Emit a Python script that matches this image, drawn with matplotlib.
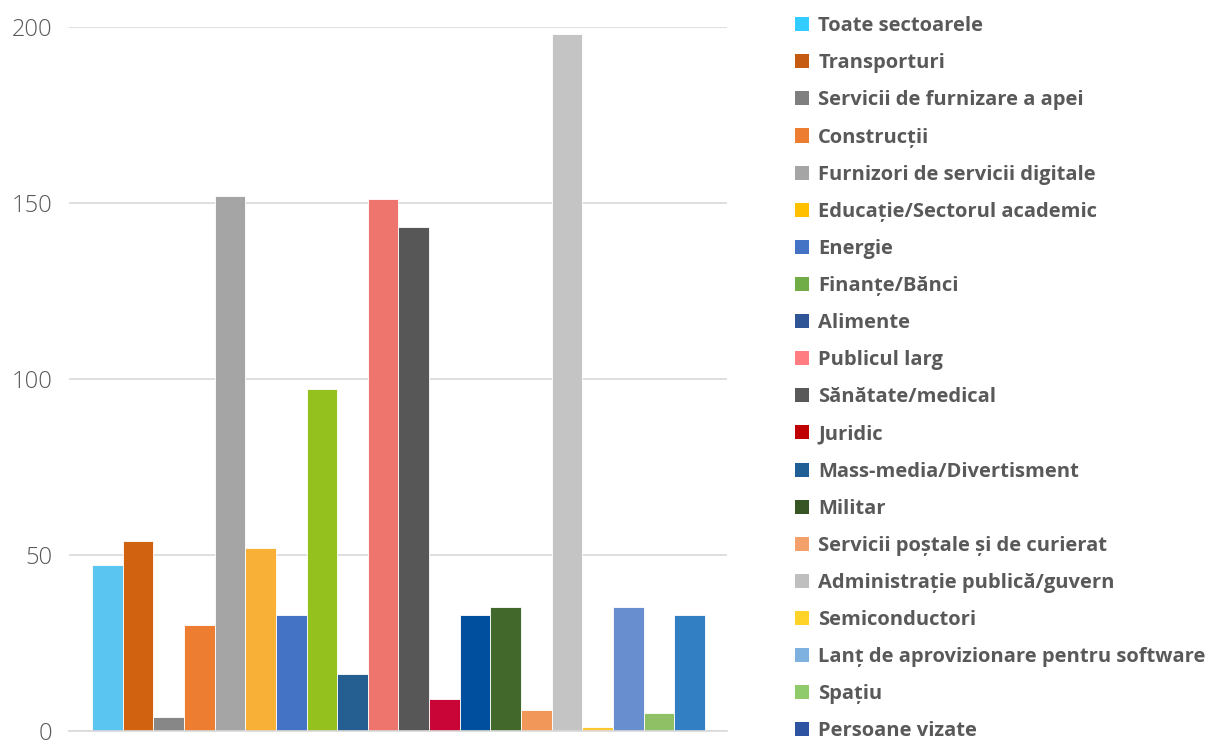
import matplotlib
matplotlib.use("Agg")
import matplotlib.pyplot as plt
from matplotlib.patches import Patch

sectors = ["Toate sectoarele", "Transporturi", "Servicii de furnizare a apei", "Construcții",
           "Furnizori de servicii digitale", "Educație/Sectorul academic", "Energie",
           "Finanțe/Bănci", "Alimente", "Publicul larg", "Sănătate/medical", "Juridic",
           "Mass-media/Divertisment", "Militar", "Servicii poștale și de curierat",
           "Administrație publică/guvern", "Semiconductori",
           "Lanț de aprovizionare pentru software", "Spațiu", "Persoane vizate"]
counts = [47, 54, 4, 30, 152, 52, 33, 97, 16, 151, 143, 9, 33, 35, 6, 198, 1, 35, 5, 33]
bar_colors = ["#5BC5F2", "#D06210", "#878787", "#ED7D31", "#A5A5A5", "#F9B036", "#4472C4",
              "#95C11F", "#255E91", "#EE756D", "#575757", "#C90537", "#004F9F", "#43682B",
              "#F1975A", "#C4C4C4", "#FFC832", "#698ED0", "#8FC065", "#337FC3"]
legend_colors = ["#33CCFF", "#C55A11", "#7F7F7F", "#ED7D31", "#A5A5A5", "#FFC000", "#4472C4",
                 "#70AD47", "#2F5597", "#FF7C80", "#595959", "#C00000", "#1F5F96", "#375623",
                 "#F4A06A", "#BFBFBF", "#FFD32A", "#7EB1E0", "#8FCB6B", "#2E54A1"]

TXT = "#595959"
fig = plt.figure(figsize=(12.07, 7.40), dpi=100)
ax = fig.add_axes([0.0572, 0.0126, 0.5451, 0.9514])

xs = list(range(len(counts)))
ax.bar(xs, counts, width=1.0, color=bar_colors, edgecolor="white", linewidth=0.6, zorder=3)
ax.set_xlim(-1.25, 20.22)
ax.set_ylim(0, 200)
ax.set_yticks([0, 50, 100, 150, 200])
ax.yaxis.grid(True, color="#D9D9D9", linewidth=1.2, zorder=0)
ax.tick_params(axis="y", length=0, labelsize=17, labelcolor=TXT, pad=12)
ax.tick_params(axis="x", length=0, labelbottom=False)
for s in ["top", "right", "left"]:
    ax.spines[s].set_visible(False)
ax.spines["bottom"].set_color("#D9D9D9")
ax.spines["bottom"].set_linewidth(1.2)
ax.spines["bottom"].set_zorder(4)
for lab in ax.get_yticklabels():
    lab.set_family("Open Sans")
    lab.set_fontweight("light")

handles = [Patch(facecolor=c, edgecolor="none") for c in legend_colors]
leg = fig.legend(handles, sectors, loc="upper left", bbox_to_anchor=(0.652, 0.989),
                 frameon=False, handlelength=0.7, handleheight=0.7, handletextpad=0.45,
                 labelspacing=0.85, borderaxespad=0,
                 prop={"family": "Open Sans", "size": 14.5, "weight": "bold"})
for t in leg.get_texts():
    t.set_color(TXT)

fig.savefig("out.png", dpi=100)
